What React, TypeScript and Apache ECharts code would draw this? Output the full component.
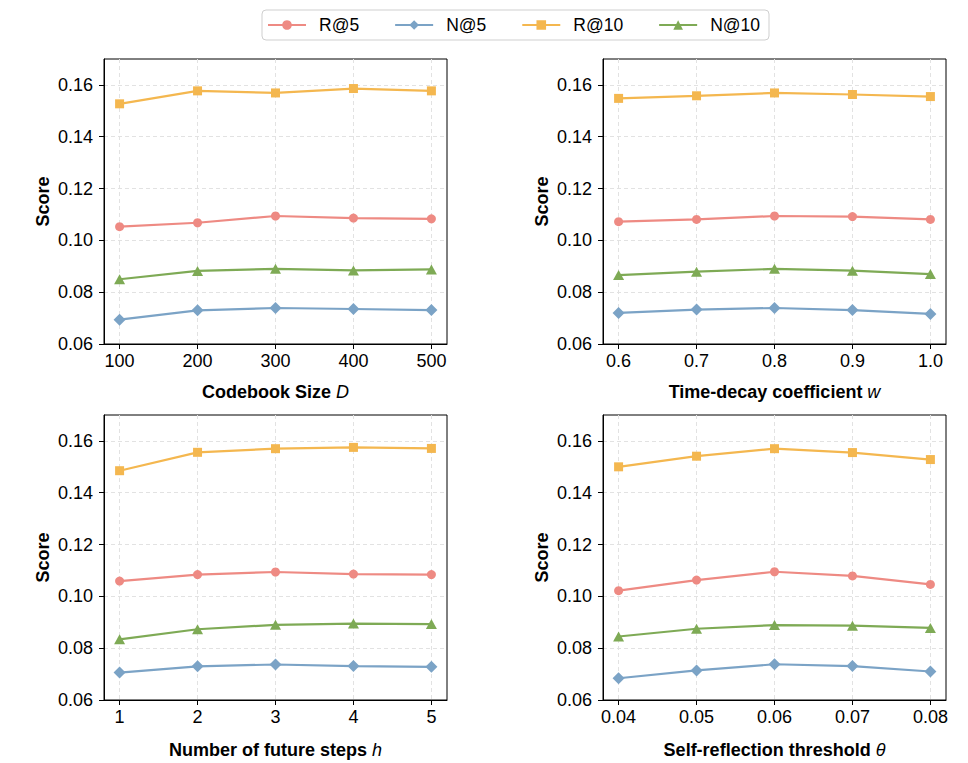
import React, { useEffect, useRef } from "react";
import * as echarts from "echarts";

const FONT = "'Liberation Sans', Arial, Helvetica, sans-serif";

const seriesNames = ["R@5", "N@5", "R@10", "N@10"];
const seriesColors = ["#EE8A83", "#7BA3C6", "#F4B74F", "#7EAA55"];
const seriesSymbols = ["circle", "diamond", "rect", "triangle"];

// Panel 1: Codebook size D
const codebookX = [100, 200, 300, 400, 500];
const codebookR5 = [0.1053, 0.1068, 0.1094, 0.1086, 0.1083];
const codebookN5 = [0.0694, 0.0730, 0.0739, 0.0735, 0.0731];
const codebookR10 = [0.1527, 0.1577, 0.1569, 0.1586, 0.1577];
const codebookN10 = [0.0850, 0.0882, 0.0890, 0.0884, 0.0888];

// Panel 2: Time-decay coefficient w
const decayX = [0.6, 0.7, 0.8, 0.9, 1.0];
const decayR5 = [0.1072, 0.1081, 0.1094, 0.1092, 0.1081];
const decayN5 = [0.0720, 0.0733, 0.0739, 0.0731, 0.0716];
const decayR10 = [0.1548, 0.1558, 0.1569, 0.1563, 0.1555];
const decayN10 = [0.0866, 0.0879, 0.0890, 0.0883, 0.0870];

// Panel 3: Number of future steps h
const stepsX = [1, 2, 3, 4, 5];
const stepsR5 = [0.1059, 0.1084, 0.1094, 0.1086, 0.1084];
const stepsN5 = [0.0706, 0.0730, 0.0737, 0.0731, 0.0728];
const stepsR10 = [0.1485, 0.1556, 0.1570, 0.1575, 0.1571];
const stepsN10 = [0.0834, 0.0873, 0.0890, 0.0895, 0.0893];

// Panel 4: Self-reflection threshold theta
const thetaX = [0.04, 0.05, 0.06, 0.07, 0.08];
const thetaR5 = [0.1022, 0.1063, 0.1095, 0.1079, 0.1046];
const thetaN5 = [0.0684, 0.0714, 0.0738, 0.0731, 0.0710];
const thetaR10 = [0.1500, 0.1541, 0.1570, 0.1555, 0.1528];
const thetaN10 = [0.0845, 0.0875, 0.0889, 0.0887, 0.0878];

const yTicks = [0.06, 0.08, 0.1, 0.12, 0.14, 0.16];
const yMin = 0.06;
const yMax = 0.17;

const panels = [
  { name: "Codebook Size {i|D}", x: codebookX, min: 80, max: 520, digits: 0, data: [codebookR5, codebookN5, codebookR10, codebookN10] },
  { name: "Time-decay coefficient {i|w}", x: decayX, min: 0.58, max: 1.02, digits: 1, data: [decayR5, decayN5, decayR10, decayN10] },
  { name: "Number of future steps {i|h}", x: stepsX, min: 0.8, max: 5.2, digits: 0, data: [stepsR5, stepsN5, stepsR10, stepsN10] },
  { name: "Self-reflection threshold {i|θ}", x: thetaX, min: 0.038, max: 0.082, digits: 2, data: [thetaR5, thetaN5, thetaR10, thetaN10] },
];

const gridPos = [
  { left: 104, top: 59, gap: 39 },
  { left: 603, top: 59, gap: 39 },
  { left: 104, top: 415, gap: 41 },
  { left: 603, top: 415, gap: 41 },
];

const symbolSizes: any = {
  circle: 9,
  diamond: [12, 12],
  rect: 9,
  triangle: [11, 10],
};

export default function App() {
  const ref = useRef<HTMLDivElement>(null);
  useEffect(() => {
    if (!ref.current) return;
    const chart = echarts.init(ref.current, undefined, { renderer: "svg" });
    const textBase = { fontFamily: FONT, color: "#000", fontSize: 18 };
    const grids = gridPos.map((g) => ({
      left: g.left,
      top: g.top,
      width: 343,
      height: 285,
      show: true,
      borderColor: "#000",
      borderWidth: 1,
      backgroundColor: "transparent",
    }));
    const xAxes = panels.map((p, i) => ({
      type: "value",
      gridIndex: i,
      min: p.min,
      max: p.max,
      name: p.name,
      nameLocation: "middle",
      nameGap: gridPos[i].gap,
      nameTextStyle: {
        ...textBase,
        fontWeight: "bold",
        rich: { i: { fontFamily: FONT, fontStyle: "italic", fontWeight: "normal", fontSize: 18, color: "#000" } },
      },
      axisLine: { show: true, lineStyle: { color: "#000", width: 1 } },
      axisTick: { show: true, inside: false, length: 5, customValues: p.x, lineStyle: { color: "#000" } },
      axisLabel: { ...textBase, margin: 8, customValues: p.x, formatter: (v: number) => v.toFixed(p.digits) },
      splitLine: { show: true, lineStyle: { color: "#e2e2e2", type: [4, 3], width: 1 } },
    }));
    const yAxes = panels.map((p, i) => ({
      type: "value",
      gridIndex: i,
      min: yMin,
      max: yMax,
      name: "Score",
      nameLocation: "middle",
      nameGap: 52,
      nameTextStyle: { ...textBase, fontWeight: "bold", fontSize: 18 },
      axisLine: { show: true, lineStyle: { color: "#000", width: 1 } },
      axisTick: { show: true, inside: false, length: 5, customValues: yTicks, lineStyle: { color: "#000" } },
      axisLabel: { ...textBase, margin: 11, customValues: yTicks, formatter: (v: number) => v.toFixed(2) },
      splitLine: { show: true, lineStyle: { color: "#e2e2e2", type: [4, 3], width: 1 } },
    }));
    const series: any[] = [];
    panels.forEach((p, gi) => {
      seriesNames.forEach((nm, si) => {
        series.push({
          type: "line",
          name: nm,
          xAxisIndex: gi,
          yAxisIndex: gi,
          data: p.x.map((xv, k) => [xv, p.data[si][k]]),
          symbol: seriesSymbols[si],
          symbolSize: symbolSizes[seriesSymbols[si]],
          showSymbol: true,
          lineStyle: { color: seriesColors[si], width: 2.2 },
          itemStyle: { color: seriesColors[si] },
          z: 3,
        });
      });
    });
    chart.setOption({
      animation: false,
      backgroundColor: "#fff",
      textStyle: { fontFamily: FONT },
      legend: {
        data: seriesNames,
        left: 262,
        top: 10,
        orient: "horizontal",
        itemWidth: 38,
        itemHeight: 12,
        itemGap: 35,
        padding: [6, 9, 6, 5],
        borderColor: "#cfcfcf",
        borderWidth: 1,
        borderRadius: 4,
        formatter: (n: string) => "{a|" + n + "}",
        textStyle: {
          ...textBase,
          fontSize: 17.5,
          rich: { a: { fontFamily: FONT, fontSize: 17.5, color: "#000", padding: [2, 0, 2, 8] } },
        },
      },
      grid: grids,
      xAxis: xAxes,
      yAxis: yAxes,
      series,
    });
    return () => chart.dispose();
  }, []);
  return (
    <div
      ref={ref}
      style={{ position: "absolute", left: 0, top: 0, width: 968, height: 763, background: "#fff" }}
    />
  );
}
